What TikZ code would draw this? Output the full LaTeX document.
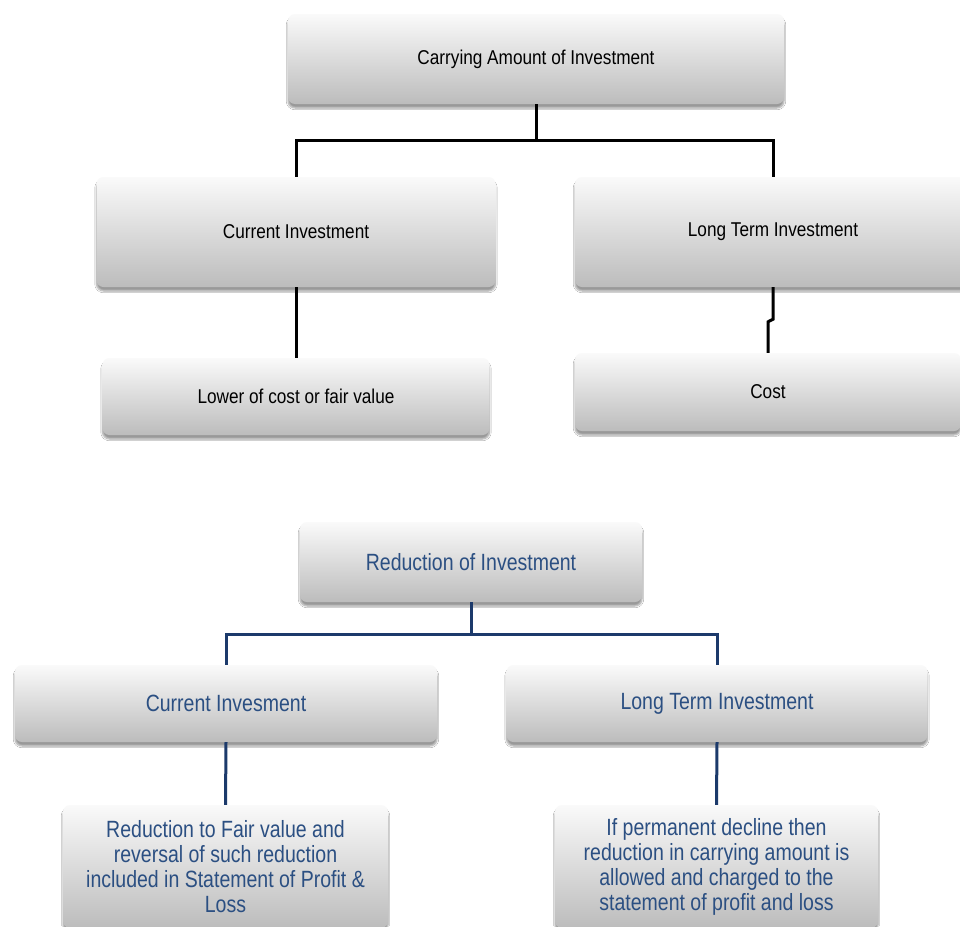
\documentclass[tikz,border=0pt]{standalone}
\usepackage{fontspec}
\newfontfamily\narrowfont[FakeStretch=0.86]{Liberation Sans}
\newfontfamily\narrowfontb[FakeStretch=0.83]{Liberation Sans}
\usetikzlibrary{shadows.blur,calc}
\definecolor{txtblue}{RGB}{43,79,130}
\definecolor{lineblue}{RGB}{28,58,107}
\definecolor{boxtop}{RGB}{250,250,250}
\definecolor{boxmid}{RGB}{228,228,228}
\definecolor{boxbot}{RGB}{188,188,188}
\begin{document}
\begin{tikzpicture}[x=1pt,y=-1pt,
  box/.style={rectangle, rounded corners=7pt, top color=boxtop, middle color=boxmid, bottom color=boxbot,
    blur shadow={shadow xshift=0pt, shadow yshift=-4pt, shadow opacity=40, shadow blur steps=6},
    inner sep=0pt, align=center},
  topfont/.style={font=\narrowfont\fontsize{20}{24}\selectfont, text=black},
  botfont/.style={font=\narrowfontb\fontsize{23.5}{25}\selectfont, text=txtblue},
  conn/.style={draw=black, line width=3pt},
  bconn/.style={draw=lineblue, line width=3pt}
]
\useasboundingbox (0,0) rectangle (960,926);
\fill[white] (0,0) rectangle (960,926);

% ---------- upper diagram ----------
\node[box, topfont, minimum width=496pt, minimum height=90pt] (cai) at (536,59) {Carrying Amount of Investment};
\node[box, topfont, minimum width=399pt, minimum height=110pt] (ci) at (296,232) {Current Investment};
\node[box, topfont, minimum width=396pt, minimum height=110pt] (lti) at (773,232) {Long Term Investment};
\node[box, topfont, minimum width=387pt, minimum height=77pt] (lcf) at (296,396.5) {Lower of cost or fair value};
\node[box, topfont, minimum width=386pt, minimum height=78pt] (cost) at (768,392) {Cost};

\coordinate (tj) at (536,140);
\draw[conn] (cai.south) -- (tj);
\draw[conn] (tj) -| (ci.north);
\draw[conn] (tj) -| (lti.north);
\draw[conn] (ci.south) -- (lcf.north);
\draw[conn] (lti.south) -- ++(0,32) -- ($(cost.north)+(0,-31)$) -- (cost.north);

% ---------- lower diagram ----------
\node[box, botfont, minimum width=342pt, minimum height=80pt] (roi) at (471,562) {Reduction of Investment};
\node[box, botfont, minimum width=422pt, minimum height=77pt] (ci2) at (226,703.5) {Current Invesment};
\node[box, botfont, minimum width=421pt, minimum height=77pt] (lti2) at (717,703.5) {Long Term Investment};
\node[box, botfont, minimum width=325pt, minimum height=123pt] (rfv) at (225.5,866.5)
  {Reduction to Fair value and\\reversal of such reduction\\included in Statement of Profit \&\\Loss};
\node[box, botfont, minimum width=323pt, minimum height=123pt] (pd) at (716.5,866.5)
  {If permanent decline then\\reduction in carrying amount is\\allowed and charged to the\\statement of profit and loss};

\coordinate (bj) at (471,634);
\draw[bconn] (roi.south) -- (bj);
\draw[bconn] (bj) -| (ci2.north);
\draw[bconn] (bj) -| (lti2.north);
\draw[bconn] (ci2.south) -- (rfv.north);
\draw[bconn] (lti2.south) -- (pd.north);
\end{tikzpicture}
\end{document}
